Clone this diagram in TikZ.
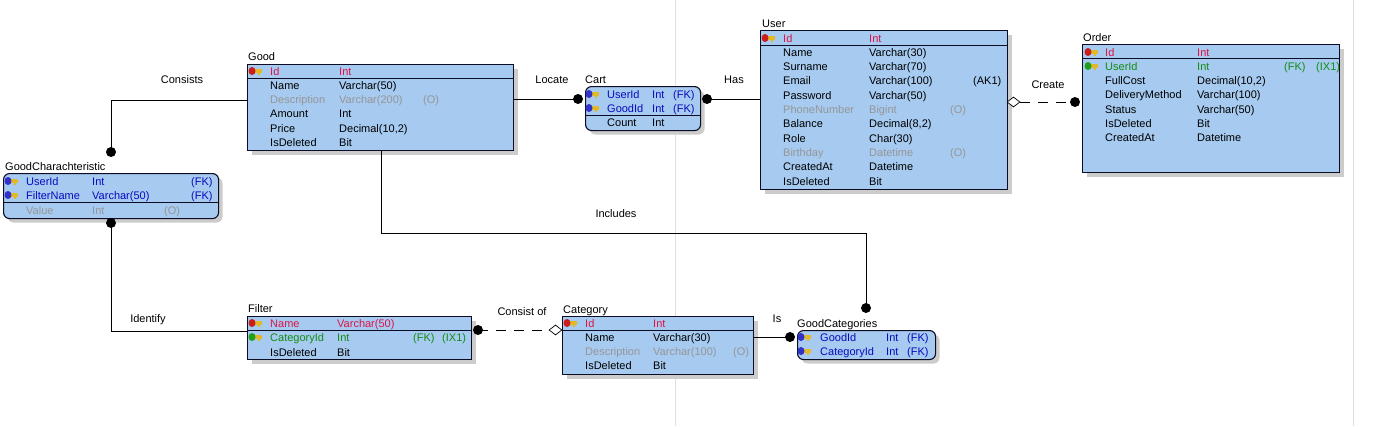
\documentclass[tikz,border=0pt]{standalone}
\usepackage{fontspec}
\setmainfont{Liberation Sans}
\usetikzlibrary{shadows,shapes.geometric}

\definecolor{tblfill}{RGB}{166,202,240}
\definecolor{tblborder}{RGB}{12,12,36}
\definecolor{pkred}{RGB}{220,20,70}
\definecolor{fkblue}{RGB}{10,10,190}
\definecolor{ixgreen}{RGB}{20,140,20}
\definecolor{optgray}{RGB}{150,150,150}
\definecolor{keygold}{RGB}{225,185,40}
\definecolor{keyred}{RGB}{200,30,30}
\definecolor{keyblue}{RGB}{50,50,200}
\definecolor{keygreen}{RGB}{30,160,30}

\newcommand{\tabfont}{\fontsize{11}{13}\selectfont}
% small key glyph in front of a key column
\newcommand{\keyicon}[3]{%
  \fill[keygold, rounded corners=1pt] (#1-1,#2-2) rectangle (#1+8,#2+2);
  \fill[keygold] (#1+4,#2+2) rectangle (#1+6,#2+3.5);
  \fill[#3] (#1-2,#2) ellipse (3.5pt and 4pt);
}

\begin{document}
\begin{tikzpicture}[x=1pt,y=-1pt,
    tbl/.style={draw=tblborder, fill=tblfill, line width=1.1pt, inner sep=0,
      anchor=north west,
      drop shadow={shadow xshift=4pt, shadow yshift=-4pt, fill=black!20, opacity=1}},
    rtbl/.style={tbl, rounded corners=6pt},
    sep/.style={draw=tblborder, line width=0.8pt},
    fld/.style={anchor=base west, inner sep=0, font=\tabfont},
    title/.style={fld},
    pk/.style={text=pkred}, fk/.style={text=fkblue}, ix/.style={text=ixgreen},
    op/.style={text=optgray}, nm/.style={text=black},
    rel/.style={draw=black, line width=0.9pt},
    lbl/.style={inner sep=0, font=\tabfont},
    dot/.style={circle, fill=black, inner sep=0, minimum size=10pt},
    diam/.style={diamond, draw=black, fill=white, inner sep=0, line width=0.7pt,
      minimum width=13pt, minimum height=10pt},
    guide/.style={draw=black!12, line width=0.8pt}]

    \path[fill=white,use as bounding box] (0,0) rectangle (1394,426);
    \draw[guide] (675,0) -- (675,426);
    \draw[guide] (1353,0) -- (1353,426);

    % tables
    \node[tbl, minimum width=266pt, minimum height=86pt] (good) at (247,64) {};
    \node[rtbl, minimum width=115pt, minimum height=44pt] (cart) at (585,86) {};
    \node[tbl, minimum width=247pt, minimum height=159pt] (user) at (760,30) {};
    \node[tbl, minimum width=257pt, minimum height=128pt] (order) at (1082,44) {};
    \node[rtbl, minimum width=215pt, minimum height=45pt] (gchar) at (3,173) {};
    \node[tbl, minimum width=224pt, minimum height=43pt] (filter) at (247,316) {};
    \node[tbl, minimum width=191pt, minimum height=58pt] (category) at (562,316) {};
    \node[rtbl, minimum width=138pt, minimum height=29pt] (gcat) at (797,330) {};

    \node[title] (good-title) at (248,60) {Good};
    \node[title] (cart-title) at (585,83) {Cart};
    \node[title] (user-title) at (762,27) {User};
    \node[title] (order-title) at (1083,41) {Order};
    \node[title] (gchar-title) at (5,170) {GoodCharachteristic};
    \node[title] (filter-title) at (248,312) {Filter};
    \node[title] (category-title) at (563,313) {Category};
    \node[title] (gcat-title) at (797,327) {GoodCategories};

    % separators under the key rows
    \draw[sep] (good.west |- 0,78) -- (good.east |- 0,78);
    \draw[sep] (cart.west |- 0,115) -- (cart.east |- 0,115);
    \draw[sep] (user.west |- 0,45) -- (user.east |- 0,45);
    \draw[sep] (order.west |- 0,58) -- (order.east |- 0,58);
    \draw[sep] (gchar.west |- 0,202) -- (gchar.east |- 0,202);
    \draw[sep] (filter.west |- 0,330) -- (filter.east |- 0,330);
    \draw[sep] (category.west |- 0,330) -- (category.east |- 0,330);

    % columns
    \foreach \f/\t/\s [count=\i from 0] in {Id/Int/pk, Name/Varchar(50)/nm,
        Description/Varchar(200)/op, Amount/Int/nm, Price/{Decimal(10,2)}/nm, IsDeleted/Bit/nm} {
      \node[fld,\s] (good-n\i) at (270,75+14.25*\i) {\f};
      \node[fld,\s] (good-t\i) at (339,75+14.25*\i) {\t};
    }
    \node[fld,op] (good-e2) at (423,103.5) {(O)};

    \foreach \f/\t/\s [count=\i from 0] in {UserId/Int/fk, GoodId/Int/fk, Count/Int/nm} {
      \node[fld,\s] (cart-n\i) at (607,98+14*\i) {\f};
      \node[fld,\s] (cart-t\i) at (652,98+14*\i) {\t};
    }
    \node[fld,fk] (cart-e0) at (673,98) {(FK)};
    \node[fld,fk] (cart-e1) at (673,112) {(FK)};

    \foreach \f/\t/\s [count=\i from 0] in {Id/Int/pk, Name/Varchar(30)/nm,
        Surname/Varchar(70)/nm, Email/Varchar(100)/nm, Password/Varchar(50)/nm,
        PhoneNumber/Bigint/op, Balance/{Decimal(8,2)}/nm, Role/Char(30)/nm,
        Birthday/Datetime/op, CreatedAt/Datetime/nm, IsDeleted/Bit/nm} {
      \node[fld,\s] (user-n\i) at (783,42+14.3*\i) {\f};
      \node[fld,\s] (user-t\i) at (869,42+14.3*\i) {\t};
    }
    \node[fld,nm] (user-e3) at (973,84.9) {(AK1)};
    \node[fld,op] (user-e5) at (950,113.5) {(O)};
    \node[fld,op] (user-e8) at (950,156.4) {(O)};

    \foreach \f/\t/\s [count=\i from 0] in {Id/Int/pk, UserId/Int/ix,
        FullCost/{Decimal(10,2)}/nm, DeliveryMethod/Varchar(100)/nm,
        Status/Varchar(50)/nm, IsDeleted/Bit/nm, CreatedAt/Datetime/nm} {
      \node[fld,\s] (order-n\i) at (1105,56+14.3*\i) {\f};
      \node[fld,\s] (order-t\i) at (1197,56+14.3*\i) {\t};
    }
    \node[fld,ix] (order-e1) at (1284,70.3) {(FK)};
    \node[fld,ix] (order-x1) at (1316,70.3) {(IX1)};

    \foreach \f/\t/\s [count=\i from 0] in {UserId/Int/fk, FilterName/Varchar(50)/fk, Value/Int/op} {
      \node[fld,\s] (gchar-n\i) at (26,185+14.5*\i) {\f};
      \node[fld,\s] (gchar-t\i) at (92,185+14.5*\i) {\t};
    }
    \node[fld,fk] (gchar-e0) at (191,185) {(FK)};
    \node[fld,fk] (gchar-e1) at (191,199.5) {(FK)};
    \node[fld,op] (gchar-e2) at (164,214) {(O)};

    \foreach \f/\t/\s [count=\i from 0] in {Name/Varchar(50)/pk, CategoryId/Int/ix, IsDeleted/Bit/nm} {
      \node[fld,\s] (filter-n\i) at (270,327+14.5*\i) {\f};
      \node[fld,\s] (filter-t\i) at (337,327+14.5*\i) {\t};
    }
    \node[fld,ix] (filter-e1) at (413,341.5) {(FK)};
    \node[fld,ix] (filter-x1) at (442,341.5) {(IX1)};

    \foreach \f/\t/\s [count=\i from 0] in {Id/Int/pk, Name/Varchar(30)/nm,
        Description/Varchar(100)/op, IsDeleted/Bit/nm} {
      \node[fld,\s] (category-n\i) at (585,327+14.33*\i) {\f};
      \node[fld,\s] (category-t\i) at (653,327+14.33*\i) {\t};
    }
    \node[fld,op] (category-e2) at (733,355.7) {(O)};

    \foreach \f/\t/\s [count=\i from 0] in {GoodId/Int/fk, CategoryId/Int/fk} {
      \node[fld,\s] (gcat-n\i) at (820,341+14*\i) {\f};
      \node[fld,\s] (gcat-t\i) at (886,341+14*\i) {\t};
      \node[fld,\s] (gcat-e\i) at (907,341+14*\i) {(FK)};
    }

    % keys
    \keyicon{254}{71}{keyred}
    \keyicon{591}{94}{keyblue}
    \keyicon{591}{108}{keyblue}
    \keyicon{767}{38}{keyred}
    \keyicon{1090}{52}{keyred}
    \keyicon{1090}{66}{keygreen}
    \keyicon{10}{181}{keyblue}
    \keyicon{10}{195}{keyblue}
    \keyicon{254}{323}{keyred}
    \keyicon{254}{337}{keygreen}
    \keyicon{569}{323}{keyred}
    \keyicon{803}{337}{keyblue}
    \keyicon{803}{351}{keyblue}

    % relations
    \node[dot] (d1) at (111,152) {};
    \node[dot] (d2) at (578,99) {};
    \node[dot] (d3) at (707,99) {};
    \node[dot] (d4) at (1075,102) {};
    \node[dot] (d5) at (866,308) {};
    \node[dot] (d6) at (111,223) {};
    \node[dot] (d7) at (478,330) {};
    \node[dot] (d8) at (790,337) {};
    \node[diam] (m1) at (1013.5,102) {};
    \node[diam] (m2) at (555.5,330) {};

    \draw[rel] (good.west |- 0,100) -| (d1.center);
    \draw[rel] (good.east |- d2) -- (d2.center);
    \draw[rel] (d3.center) -- (user.west |- d3);
    \draw[rel, dash pattern=on 10pt off 8pt] (m1.east) -- (d4.center);
    \draw[rel] (good.south -| 381,0) -- ++(0,82) -| (d5.center);
    \draw[rel] (d6.center) |- (filter.west |- 0,331);
    \draw[rel, dash pattern=on 10pt off 8pt] (d7.center) -- (m2.west);
    \draw[rel] (category.east |- d8) -- (d8.center);

    \node[lbl] (consists) at (182,80) {Consists};
    \node[lbl] (locate) at (552,80) {Locate};
    \node[lbl] (has) at (734,80) {Has};
    \node[lbl] (create) at (1048,85) {Create};
    \node[lbl] (includes) at (616,214) {Includes};
    \node[lbl] (identify) at (148,320) {Identify};
    \node[lbl] (consistof) at (522,312) {Consist of};
    \node[lbl] (is) at (777,319) {Is};
\end{tikzpicture}
\end{document}
